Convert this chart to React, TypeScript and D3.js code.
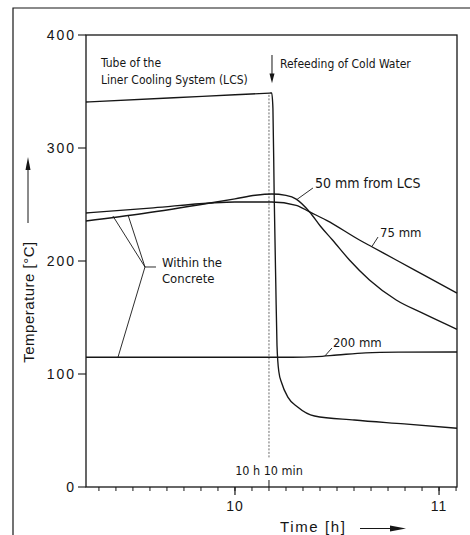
import React from "react";
import * as d3 from "d3";

// time in hours, temperature in °C
const lcsTube: [number, number][] = [
  [9.27, 340.7], [9.7, 344.5], [10.0, 347.1], [10.17, 348.6], [10.18, 348.7],
  [10.186, 335], [10.192, 260], [10.2, 180], [10.206, 125], [10.215, 102],
  [10.229, 92], [10.259, 79.6], [10.307, 70.8], [10.39, 62.8], [10.585, 59.3],
  [10.829, 55.8], [11.088, 52.0],
];
const mm50: [number, number][] = [
  [9.27, 235.4], [9.55, 242], [9.878, 251.3], [10.0, 255], [10.1, 258.2],
  [10.18, 259.3], [10.25, 258], [10.3, 254.8], [10.366, 243.4], [10.42, 230.5],
  [10.478, 218.6], [10.561, 200.9], [10.659, 183.2], [10.79, 165.5],
  [10.917, 154.0], [11.088, 139.5],
];
const mm75: [number, number][] = [
  [9.27, 242.5], [9.6, 247], [9.878, 251.3], [10.0, 252.2], [10.18, 252.2],
  [10.3, 249.3], [10.366, 243.4], [10.449, 236.0], [10.61, 218.6],
  [10.673, 212.4], [10.79, 200.9], [10.951, 185.0], [11.088, 171.5],
];
const mm200: [number, number][] = [
  [9.27, 114.8], [10.28, 114.8], [10.4, 115.4], [10.5, 116.8], [10.64, 118.7],
  [10.8, 119.3], [11.088, 119.5],
];

const yTicks = [0, 100, 200, 300, 400];
const xMajor = [10, 11];
const refeedTime = 10 + 10 / 60;

const W = 470;
const H = 535;
const plot = { left: 86, right: 457, top: 35, bottom: 487 };
const ink = "#161616";
const narrow = "'Liberation Sans Narrow', 'DejaVu Sans Condensed', 'Arial Narrow', sans-serif";
const sans = "'Liberation Sans', Arial, Helvetica, sans-serif";

export default function App() {
  const x = d3.scaleLinear().domain([9.27, 11.088]).range([plot.left, plot.right]);
  const y = d3.scaleLinear().domain([0, 400]).range([plot.bottom, plot.top]);

  const line = d3
    .line<[number, number]>()
    .x((d) => x(d[0]))
    .y((d) => y(d[1]))
    .curve(d3.curveMonotoneX);

  // 5 minute ticks
  const minorTicks = d3.range(9 * 12 + 4, 11 * 12 + 2).map((k) => k / 12);

  const leader = (a: [number, number], b: [number, number], key: string) => (
    <line key={key} x1={x(a[0])} y1={y(a[1])} x2={x(b[0])} y2={y(b[1])} stroke={ink} strokeWidth={0.9} />
  );

  const junction: [number, number] = [9.559, 194.7];

  return (
    <svg width={W} height={H} style={{ position: "absolute", left: 0, top: 0, background: "#fff" }}>
      {/* outer frame of the figure */}
      <path d={`M13,${H} L13,8 L${W},8`} fill="none" stroke={ink} strokeWidth={1.2} />

      {/* plot box */}
      <rect
        x={plot.left}
        y={plot.top}
        width={plot.right - plot.left}
        height={plot.bottom - plot.top}
        fill="none"
        stroke={ink}
        strokeWidth={1.3}
      />

      {/* y axis */}
      {yTicks.map((t) => (
        <g key={t}>
          <line x1={plot.left - 8} x2={plot.left} y1={y(t)} y2={y(t)} stroke={ink} strokeWidth={1.1} />
          <text
            x={plot.left - 10}
            y={y(t) + 5}
            textAnchor="end"
            fontFamily={sans}
            fontSize={14}
            letterSpacing={2}
            fill={ink}
          >
            {t}
          </text>
        </g>
      ))}

      {/* x axis ticks */}
      {minorTicks.map((t) => (
        <line key={t} x1={x(t)} x2={x(t)} y1={plot.bottom} y2={plot.bottom + 4} stroke={ink} strokeWidth={1} />
      ))}
      {xMajor.map((t) => (
        <g key={t}>
          <line x1={x(t)} x2={x(t)} y1={plot.bottom} y2={plot.bottom + 8} stroke={ink} strokeWidth={1.2} />
          <text x={x(t)} y={plot.bottom + 24} textAnchor="middle" fontFamily={sans} fontSize={14} letterSpacing={1} fill={ink}>
            {t}
          </text>
        </g>
      ))}
      <line x1={x(refeedTime)} x2={x(refeedTime)} y1={plot.bottom - 7} y2={plot.bottom} stroke={ink} strokeWidth={1} />

      {/* axis titles */}
      <text
        transform={`translate(34,302) rotate(-90)`}
        textAnchor="middle"
        fontFamily={sans}
        fontSize={15}
        letterSpacing={0.5}
        fill={ink}
      >
        Temperature [°C]
      </text>
      <line x1={28} x2={28} y1={223} y2={166} stroke={ink} strokeWidth={1} />
      <path d="M28,157 L25.5,170 L30.5,170 Z" fill={ink} />

      <text x={280} y={532} fontFamily={sans} fontSize={15} letterSpacing={1.6} fill={ink}>
        Time  [h]
      </text>
      <line x1={360} x2={394} y1={528.5} y2={528.5} stroke={ink} strokeWidth={1} />
      <path d="M406,528.5 L390,525.5 L390,531.5 Z" fill={ink} />

      {/* 10 h 10 min marker */}
      <line
        x1={x(refeedTime)}
        x2={x(refeedTime)}
        y1={y(347)}
        y2={y(26)}
        stroke="#444"
        strokeWidth={0.8}
        strokeDasharray="2 1.5"
      />
      <text x={x(refeedTime)} y={y(10.6)} textAnchor="middle" fontFamily={narrow} fontSize={12.5} fill={ink}>
        10 h  10 min
      </text>

      {/* curves */}
      {[lcsTube, mm50, mm75, mm200].map((s, i) => (
        <path key={i} d={line(s) ?? ""} fill="none" stroke={ink} strokeWidth={1.35} />
      ))}

      {/* refeeding arrow */}
      <line x1={x(10.1814)} x2={x(10.1814)} y1={y(382.3)} y2={y(362)} stroke={ink} strokeWidth={1} />
      <path
        d={`M${x(10.1814)},${y(357.3)} L${x(10.1814) - 2.5},${y(366)} L${x(10.1814) + 2.5},${y(366)} Z`}
        fill={ink}
      />

      {/* annotations */}
      <g fontFamily={narrow} fontSize={12} fill={ink}>
        <text x={x(9.3435)} y={y(371.7)}>Tube of the</text>
        <text x={x(9.3435)} y={y(356.6)}>Liner Cooling System (LCS)</text>
        <text x={x(10.2207)} y={y(370.8)}>Refeeding of Cold Water</text>
        <text x={x(9.642)} y={y(194.7)} fontSize={13}>Within the</text>
        <text x={x(9.642)} y={y(180.5)} fontSize={13}>Concrete</text>
      </g>
      <g fontFamily={narrow} fontSize={13} fill={ink}>
        <text x={x(10.392)} y={y(264.6)} fontSize={14}>50 mm  from LCS</text>
        <text x={x(10.711)} y={y(221.2)}>75 mm</text>
        <text x={x(10.48)} y={y(123.9)}>200 mm</text>
      </g>

      {leader([10.304, 254.5], [10.382, 264.6], "l50")}
      {leader([10.671, 212.8], [10.701, 221.2], "l75")}
      {leader([10.441, 116.0], [10.475, 123], "l200")}
      {leader([9.402, 239.8], junction, "c1")}
      {leader([9.476, 240.7], junction, "c2")}
      {leader([9.427, 115.0], junction, "c3")}
      {leader(junction, [9.613, 194.7], "c4")}
    </svg>
  );
}
